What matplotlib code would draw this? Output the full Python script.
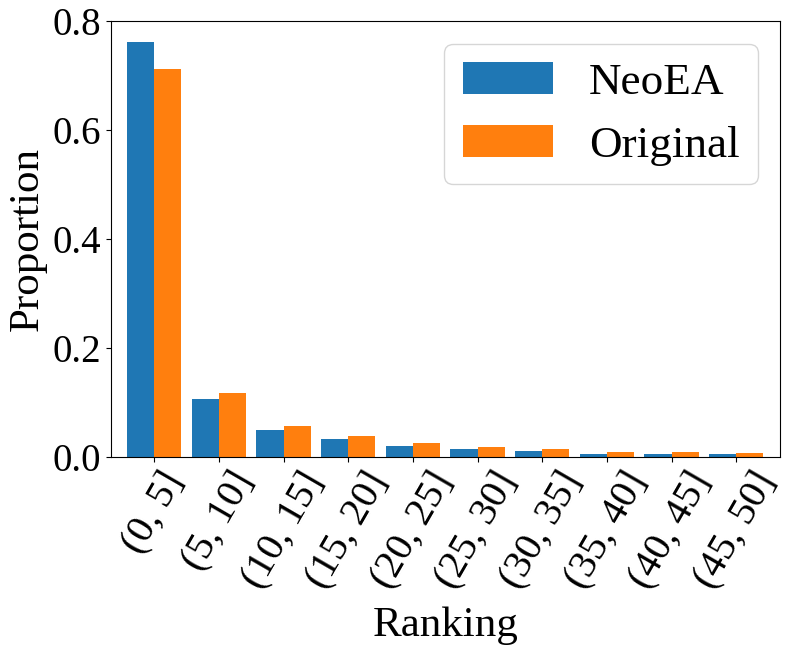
import numpy as np
import matplotlib
matplotlib.use('Agg')
import matplotlib.pyplot as plt

categories = ['(0, 5]', '(5, 10]', '(10, 15]', '(15, 20]', '(20, 25]',
              '(25, 30]', '(30, 35]', '(35, 40]', '(40, 45]', '(45, 50]']
neoea = [0.763, 0.105, 0.048, 0.032, 0.019, 0.013, 0.0097, 0.004, 0.004, 0.004]
original = [0.712, 0.116, 0.057, 0.037, 0.024, 0.017, 0.013, 0.008, 0.008, 0.006]

plt.rcParams['font.family'] = ['Liberation Serif', 'DejaVu Serif']

fig = plt.figure(figsize=(7.91, 6.45), dpi=100)
ax = fig.add_axes([0.1403, 0.2922, 0.846, 0.6745])

x = np.arange(len(categories))
w = 0.42
ax.bar(x - w/2, neoea, w, color='#1f77b4', label='NeoEA')
ax.bar(x + w/2, original, w, color='#ff7f0e', label='Original')

ax.set_xticks(x)
ax.set_xticklabels(categories, rotation=60, ha='center')
ax.set_xlim(-0.67, 9.68)
ax.set_ylim(0, 0.8)
ax.set_yticks([0.0, 0.2, 0.4, 0.6, 0.8])
ax.tick_params(axis='y', labelsize=28)
ax.tick_params(axis='x', labelsize=29)
ax.set_xlabel('Ranking', fontsize=31, labelpad=8)
ax.set_ylabel('Proportion', fontsize=31)
ax.legend(loc='upper right', fontsize=32.5)

fig.savefig('out.png', dpi=100)
